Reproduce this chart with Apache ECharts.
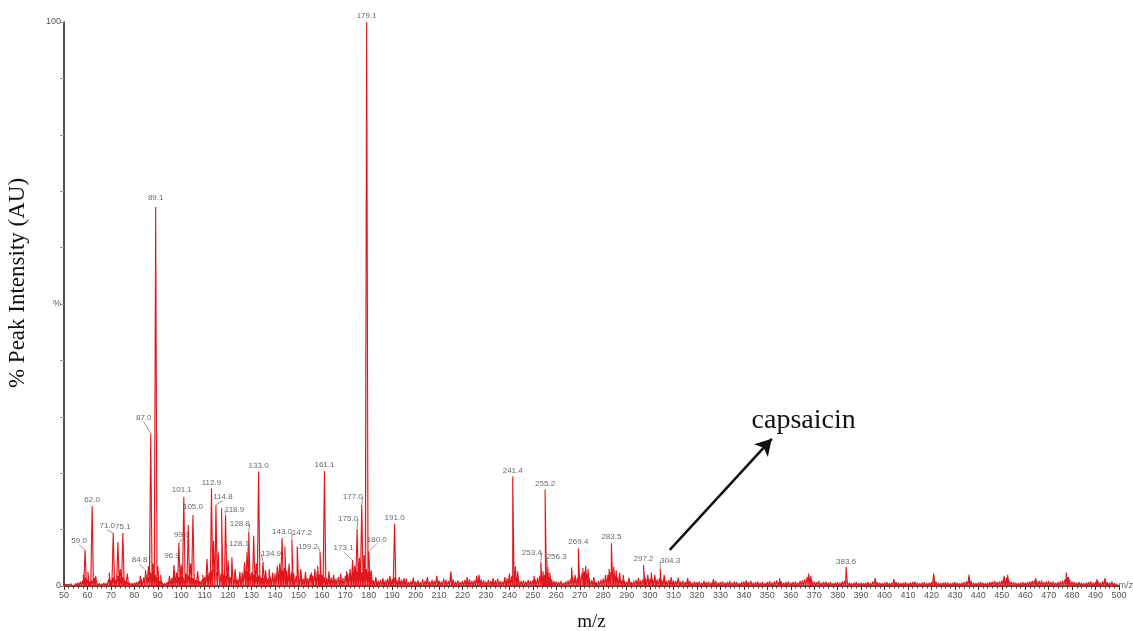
<!DOCTYPE html>
<html>
<head>
<meta charset="utf-8">
<script src="https://cdn.jsdelivr.net/npm/echarts@6/dist/echarts.min.js"></script>
<style>
  html, body { margin: 0; padding: 0; background: #fff; }
  #chart { width: 1133px; height: 631px; }
</style>
</head>
<body>
<div id="chart"></div>
<script>
// Annotated peaks (m/z, % intensity)
const labeledMz  = [59.0, 62.0, 71.0, 75.1, 84.8, 87.0, 89.1, 96.9, 99.0, 101.1,
                    105.0, 112.9, 114.8, 118.9, 128.1, 128.8, 133.0, 134.9, 143.0, 147.2,
                    159.2, 161.1, 173.1, 175.0, 177.0, 179.1, 180.0, 191.0, 241.4, 253.4,
                    255.2, 256.3, 269.4, 283.5, 297.2, 304.3, 383.6];
const labeledInt = [6.4, 14.2, 9.4, 9.4, 2.8, 27.0, 67.2, 3.7, 7.6, 15.8,
                    12.6, 17.3, 14.4, 12.6, 6.1, 9.6, 20.3, 4.3, 8.5, 8.3,
                    6.1, 20.4, 4.6, 10.1, 14.4, 100.0, 6.1, 11.0, 19.4, 4.3,
                    17.1, 3.4, 6.7, 7.6, 3.7, 3.1, 3.4];

// Other resolved peaks without annotation
const minorMz  = [58.2, 60.2, 63.5, 69.3, 73.0, 74.0, 77.0, 82.5, 86.0, 88.0,
                  90.0, 91.2, 95.0, 98.0, 100.0, 103.0, 104.0, 107.0, 109.2, 111.0,
                  113.8, 115.8, 117.2, 120.0, 121.6, 123.0, 125.0, 127.0, 130.9, 132.0,
                  136.0, 137.5, 139.0, 141.0, 142.0, 144.2, 146.0, 149.5, 151.0, 153.0,
                  155.5, 157.0, 158.2, 163.0, 165.0, 168.0, 170.5, 172.0, 174.0, 176.0,
                  178.0, 181.0, 183.0, 186.0, 189.0, 193.0, 195.0, 199.0, 205.0, 209.0,
                  215.0, 222.0, 226.0, 227.0, 233.0, 238.0, 240.0, 242.5, 243.5, 250.5,
                  254.3, 257.2, 266.5, 268.0, 271.3, 272.5, 273.5, 276.0, 281.0, 282.5,
                  284.5, 285.5, 287.0, 288.5, 291.0, 295.0, 299.0, 300.5, 302.0, 306.0,
                  309.0, 312.0, 316.0, 327.0, 341.0, 355.2, 367.6, 368.5, 396.0, 404.0,
                  421.0, 436.0, 451.0, 452.5, 464.5, 477.5, 478.5, 490.5, 494.0];
const minorInt = [2.0, 2.5, 1.8, 2.4, 7.8, 3.0, 2.2, 1.8, 3.5, 4.0,
                  3.5, 2.0, 1.8, 2.4, 3.8, 10.8, 4.0, 2.6, 2.0, 4.8,
                  8.0, 6.0, 13.8, 4.5, 5.1, 3.0, 2.5, 4.2, 8.9, 4.0,
                  2.8, 3.0, 2.4, 3.6, 4.0, 7.0, 4.0, 7.0, 3.0, 2.5,
                  2.4, 3.0, 3.6, 2.6, 2.0, 2.2, 2.6, 3.0, 3.6, 5.0,
                  5.5, 2.8, 1.6, 1.4, 1.8, 1.6, 1.4, 1.5, 1.6, 1.8,
                  2.6, 1.6, 1.8, 2.0, 1.4, 1.6, 2.2, 3.5, 2.6, 1.8,
                  2.6, 2.4, 3.3, 2.0, 3.2, 3.6, 3.0, 1.6, 2.0, 3.0,
                  3.4, 2.8, 2.4, 2.0, 1.5, 1.4, 2.0, 2.4, 2.0, 2.0,
                  1.6, 1.5, 1.4, 1.2, 1.0, 1.4, 2.2, 1.8, 1.4, 1.2,
                  2.2, 2.0, 1.8, 2.0, 1.4, 2.4, 1.6, 1.2, 1.4];

// Baseline noise, one value per unit m/z starting at noiseStart
const noiseStart = 50;
const noiseInt = [
  0.2,0.3,0.2,0.4,0.3,0.5,0.6,0.8,1.0,1.5,
  1.2,0.8,1.0,1.4,0.6,0.5,0.4,0.6,0.5,1.2,
  1.0,1.5,1.1,1.8,1.3,1.6,1.0,0.8,0.6,0.5,
  0.6,0.7,0.9,1.2,1.5,2.0,1.6,2.4,2.2,2.0,
  1.5,0.9,0.6,0.5,0.7,0.9,1.4,1.8,1.2,1.6,
  1.8,1.5,2.2,1.9,1.5,1.4,1.1,1.0,0.9,1.2,
  1.6,2.0,2.4,2.8,3.0,2.5,2.6,2.2,2.0,1.8,
  2.1,1.6,1.3,1.5,1.2,1.8,2.4,3.0,2.6,2.2,
  2.4,2.0,1.6,1.9,1.5,1.4,1.8,1.3,1.6,1.9,
  2.2,2.6,3.0,2.8,3.2,2.7,2.0,2.4,2.2,1.8,
  1.5,1.9,1.3,1.6,1.4,2.0,1.8,2.3,2.6,2.1,
  2.0,1.6,1.4,1.2,1.5,1.1,1.3,1.6,1.0,1.4,
  1.8,2.2,2.0,2.5,2.2,2.6,3.0,2.4,2.8,3.0,
  2.6,1.5,1.0,1.2,0.9,1.1,0.8,1.0,1.3,0.9,
  1.2,1.5,1.0,0.8,1.1,0.9,1.3,0.7,0.9,1.1,
  0.8,1.0,0.7,1.2,0.9,1.4,0.8,1.1,0.9,1.6,
  1.0,0.8,1.3,1.1,0.9,2.0,1.2,0.8,1.0,0.7,
  0.9,1.1,0.8,1.2,0.9,1.0,1.4,1.6,1.2,1.0,
  0.8,1.1,0.9,0.7,1.0,1.3,0.9,0.8,1.1,1.4,
  1.2,1.8,2.6,1.6,1.1,0.9,1.0,0.8,1.1,0.9,
  1.0,1.2,1.5,1.8,1.6,2.0,2.4,1.6,1.2,0.9,
  0.8,0.7,0.9,0.6,0.8,1.0,1.2,1.6,1.4,1.5,
  2.0,2.4,2.6,2.2,1.4,1.0,0.8,0.7,0.9,1.1,
  1.3,1.6,2.0,2.4,2.2,1.8,1.5,1.3,1.0,0.9,
  0.8,1.0,0.7,0.9,1.1,0.8,1.0,1.2,1.4,1.6,
  1.3,1.1,1.5,1.2,1.4,1.0,1.2,0.9,1.1,0.8,
  1.0,0.9,1.2,0.8,0.9,0.7,0.8,0.9,0.6,0.8,
  0.7,0.8,0.6,0.9,0.7,0.8,0.6,0.7,0.9,0.6,
  0.7,0.8,0.6,0.7,0.9,0.6,0.8,0.7,0.5,0.7,
  0.8,0.6,0.7,0.9,0.6,0.7,0.8,0.6,0.7,0.5,
  0.7,0.9,0.6,0.8,1.0,0.7,0.8,0.6,0.7,0.8,
  0.6,0.7,0.8,0.6,0.9,1.0,1.2,1.6,1.4,1.0,
  0.8,0.7,0.9,0.6,0.7,0.8,0.6,0.7,0.5,0.6,
  0.7,0.6,0.8,0.9,1.0,0.6,0.5,0.6,0.7,0.5,
  0.6,0.5,0.6,0.7,0.5,0.8,1.2,0.7,0.6,0.5,
  0.6,0.7,0.5,0.6,1.0,0.7,0.6,0.5,0.6,0.7,
  0.5,0.6,0.7,0.8,0.6,0.5,0.6,0.7,0.5,0.6,
  0.7,1.4,0.8,0.6,0.5,0.6,0.7,0.6,0.5,0.6,
  0.7,0.6,0.5,0.6,0.7,0.8,1.3,0.9,0.6,0.5,
  0.6,0.7,0.6,0.5,0.6,0.7,0.8,0.9,0.7,0.8,
  1.0,1.2,1.5,1.1,0.8,0.7,0.6,0.5,0.6,0.7,
  0.6,0.7,0.8,0.9,1.0,0.8,0.9,1.0,0.7,0.8,
  0.9,0.7,0.8,0.6,0.7,0.8,0.9,1.2,1.5,1.1,
  0.8,0.7,0.6,0.7,0.6,0.5,0.6,0.7,0.8,0.6,
  0.7,0.9,0.6,0.8,1.0,0.7,0.6,0.8,0.5,0.4,
  0.3
];

// Axis ticks
const xTickMin = 50, xTickMax = 500, xTickStep = 10;
const yTickMin = 0, yTickMax = 100, yTickStep = 10;

// Capsaicin pointer: tail and head in (m/z, %) plus text anchor
const arrowTail = [308.4, 6.4];
const arrowHead = [351.9, 26.1];
const capsaicinAt = [365.5, 29.4];

// Label placement relative to each annotated peak top, in px
const labelNudge = [
  [-6, -9], [0, -6], [-6, -7], [0, -6], [-6, -10], [-7, -16], [0, -9], [-2, -9], [3, -8], [-2, -7],
  [0, -8], [0, -6], [7, -8], [9, -5], [-8, -8], [-9, -8], [0, -6], [8, -8], [0, -6], [10, -6],
  [-12, -5], [0, -6], [-9, -12], [-9, -10], [-9, -8], [0, -6], [8, -12], [0, -6], [0, -6], [-9, -9],
  [0, -6], [9, -10], [0, -6], [0, -6], [0, -6], [10, -8], [0, -5]
];

// Build the profile: every stick becomes a narrow peak on the zero baseline
const noiseHalfWidth = 0.4;
const peakHalfWidth = 0.6;
const sticks = [];
noiseInt.forEach((v, i) => sticks.push([noiseStart + i, v, noiseHalfWidth]));
minorMz.forEach((m, i) => sticks.push([m, minorInt[i], peakHalfWidth]));
labeledMz.forEach((m, i) => sticks.push([m, labeledInt[i], peakHalfWidth]));
sticks.sort((a, b) => a[0] - b[0]);
const profile = [];
sticks.forEach(([m, v, w]) => {
  profile.push([m - w, 0]);
  profile.push([m, v]);
  profile.push([m + w, 0]);
});

const labelPoints = labeledMz.map((m, i) => {
  const n = labelNudge[i];
  return {
    value: [m, labeledInt[i]],
    labelLine: { show: Math.abs(n[0]) >= 3 }
  };
});

const chart = echarts.init(document.getElementById('chart'), null, { renderer: 'canvas' });

chart.setOption({
  animation: false,
  backgroundColor: '#ffffff',
  grid: { left: 64, right: 14, top: 22, bottom: 45, outerBoundsMode: 'none', containLabel: false },
  xAxis: {
    type: 'value',
    min: xTickMin, max: xTickMax, interval: xTickStep,
    name: 'm/z',
    nameLocation: 'middle',
    nameGap: 27,
    nameTextStyle: { fontFamily: 'Liberation Serif', fontSize: 19, color: '#111' },
    axisLine: { show: true, onZero: false, lineStyle: { color: '#111', width: 1.5 } },
    axisTick: { show: true, length: 4, lineStyle: { color: '#333' } },
    minorTick: { show: true, splitNumber: 5, length: 2.5, lineStyle: { color: '#444' } },
    axisLabel: { fontFamily: 'Liberation Sans', fontSize: 9, color: '#555', margin: 5 },
    splitLine: { show: false }
  },
  yAxis: {
    type: 'value',
    min: yTickMin, max: yTickMax, interval: yTickStep,
    axisLine: { show: true, lineStyle: { color: '#111', width: 1.5 } },
    axisTick: { show: true, length: 4, lineStyle: { color: '#999' } },
    axisLabel: {
      fontFamily: 'Liberation Sans', fontSize: 9, color: '#555', margin: 3,
      formatter: v => (v === 100 ? '100' : v === 50 ? '%' : v === 0 ? '0' : '')
    },
    splitLine: { show: false }
  },
  graphic: [
    {
      type: 'text',
      right: 0,
      top: 581,
      style: { text: 'm/z', font: '9px "Liberation Sans"', fill: '#666' }
    },
    {
      type: 'text',
      x: 18,
      y: 283,
      rotation: Math.PI / 2,
      style: {
        text: '% Peak Intensity (AU)',
        font: '23px "Liberation Serif"',
        fill: '#111',
        align: 'center',
        verticalAlign: 'middle'
      }
    }
  ],
  series: [
    {
      name: 'spectrum',
      type: 'line',
      data: profile,
      symbol: 'none',
      sampling: 'none',
      clip: true,
      lineStyle: { color: '#e3161d', width: 1.1 },
      areaStyle: { color: 'rgba(240,120,120,0.5)' },
      markLine: {
        silent: true,
        symbol: ['none', 'arrow'],
        symbolSize: [14, 16],
        lineStyle: { color: '#111', width: 2.5, type: 'solid' },
        label: { show: false },
        data: [[{ coord: arrowTail }, { coord: arrowHead }]]
      },
      markPoint: {
        silent: true,
        symbol: 'circle',
        symbolSize: 0,
        label: {
          show: true,
          formatter: 'capsaicin',
          fontFamily: 'Liberation Serif',
          fontSize: 28,
          color: '#111'
        },
        data: [{ coord: capsaicinAt }]
      }
    },
    {
      name: 'peak labels',
      type: 'scatter',
      data: labelPoints,
      symbolSize: 1,
      itemStyle: { color: 'rgba(0,0,0,0)' },
      label: {
        show: true,
        formatter: p => p.value[0].toFixed(1),
        fontFamily: 'Liberation Sans',
        fontSize: 8,
        color: '#444'
      },
      labelLine: { show: false, lineStyle: { color: '#666', width: 0.7 } },
      labelLayout: p => {
        const n = labelNudge[p.dataIndex];
        return {
          x: p.rect.x + p.rect.width / 2 + n[0],
          y: p.rect.y + p.rect.height / 2 + n[1],
          align: 'center',
          verticalAlign: 'middle'
        };
      },
      z: 5
    }
  ]
});
</script>
</body>
</html>
